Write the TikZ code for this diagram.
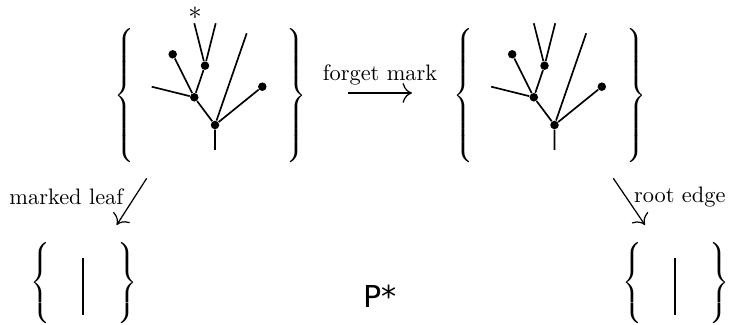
\documentclass[tikz,border=0pt]{standalone}
\usepackage{fontspec}
\usetikzlibrary{arrows.meta}
\newfontfamily\sansP{DejaVu Sans}
\newcommand{\setopen}[1]{$\nulldelimiterspace=0pt\left\{\vcenter{\hbox{\vrule height #1 width 0pt}}\right.$}
\newcommand{\setclose}[1]{$\nulldelimiterspace=0pt\left.\vcenter{\hbox{\vrule height #1 width 0pt}}\right\}$}

\begin{document}
\begin{tikzpicture}[x=0.447pt, y=-0.447pt,
    ramo/.style={line width=.75pt},
    nodo/.style={circle, fill=black, inner sep=0pt, minimum size=3.8pt},
    graffa/.style={inner sep=0pt},
    freccia/.style={-{To[scale=1.5]}, line width=.55pt}]

  \useasboundingbox (0,0) rectangle (731,325);

  % the two trees in braces
  \foreach \dx/\t in {0/L, 339.5/R} {
    \begin{scope}[shift={(\dx,0)}]
      \node[graffa] (open\t) at (124,95.5) {\setopen{60pt}};
      \node[graffa] (close\t) at (296.5,95.5) {\setclose{60pt}};
      \node[nodo] (root\t) at (215,125) {};
      \node[nodo] (a\t) at (194.3,97.3) {};
      \node[nodo] (b\t) at (205,65.7) {};
      \node[nodo] (al\t) at (172.7,54.3) {};
      \node[nodo] (rl\t) at (262.3,86.7) {};
      \coordinate (base\t) at (215,150);
      \coordinate (bl\t) at (194.3,23.3);
      \coordinate (br\t) at (215.7,23.3);
      \coordinate (ax\t) at (151.7,86.7);
      \coordinate (rx\t) at (246.7,33.3);
      \draw[ramo] (base\t) -- (root\t) -- (a\t) -- (b\t) -- (bl\t);
      \draw[ramo] (b\t) -- (br\t);
      \draw[ramo] (a\t) -- (al\t);
      \draw[ramo] (a\t) -- (ax\t);
      \draw[ramo] (root\t) -- (rx\t);
      \draw[ramo] (root\t) -- (rl\t);
    \end{scope}
  }
  \node[inner sep=0pt] (mark) at (195,13) {\large$*$};

  % the two one-edge trees
  \foreach \dx/\t in {0/L, 592/R} {
    \begin{scope}[shift={(\dx,0)}]
      \node[graffa] (sopen\t) at (40.5,283) {\setopen{35pt}};
      \node[graffa] (sclose\t) at (127.5,283) {\setclose{35pt}};
      \coordinate (top\t) at (83.3,258);
      \coordinate (bot\t) at (83.3,315);
      \draw[ramo] (top\t) -- (bot\t);
    \end{scope}
  }

  \node (pstar) at (380,296) {\sansP\fontsize{13.5}{16}\selectfont P*};

  % maps
  \coordinate (fm1) at (348,93);
  \coordinate (fm2) at (412,93);
  \draw[freccia] (fm1) -- node[above] {forget mark} (fm2);

  \coordinate (ml1) at (146.7,178.3);
  \coordinate (ml2) at (116.7,225);
  \draw[freccia] (ml1) -- node[pos=.4, left, xshift=-1.5pt] {marked leaf} (ml2);

  \coordinate (re1) at (613.3,178.3);
  \coordinate (re2) at (645,225);
  \draw[freccia] (re1) -- node[pos=.4, right] {root edge} (re2);
\end{tikzpicture}
\end{document}
